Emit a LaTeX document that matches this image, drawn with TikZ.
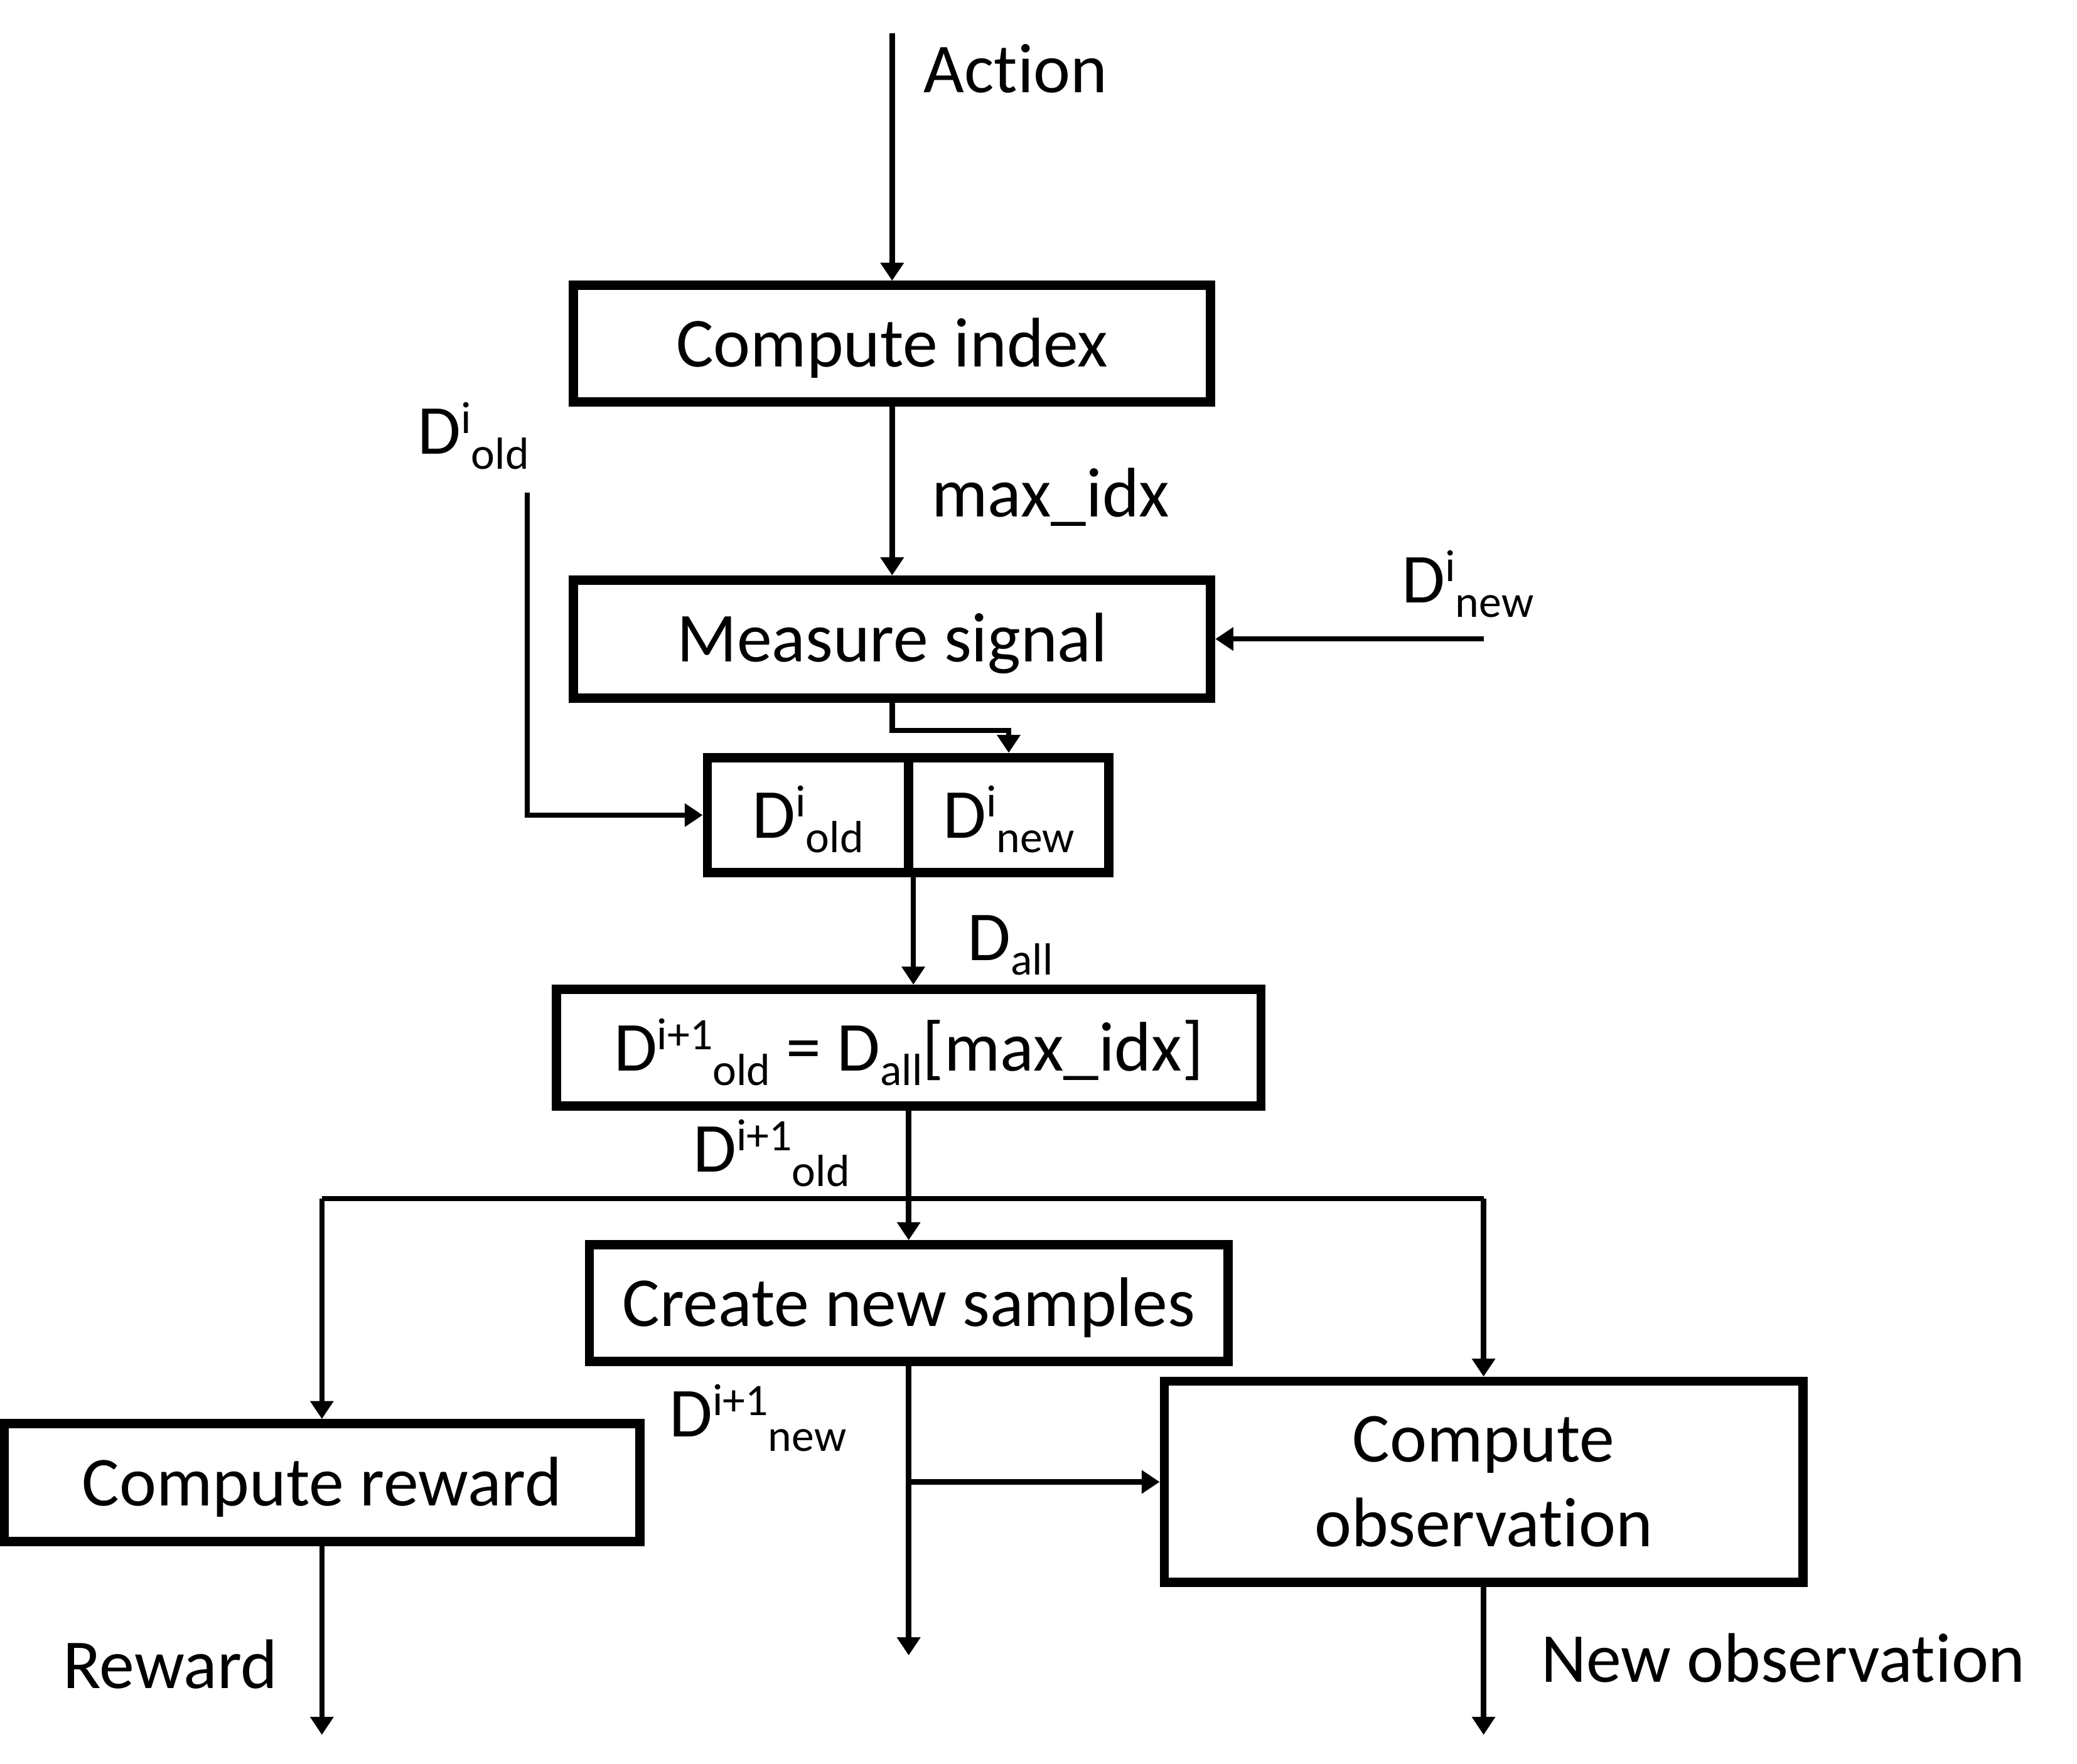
\documentclass[tikz,border=0pt]{standalone}
\usepackage{fontspec}
\setmainfont{Carlito}[Ligatures={NoCommon},RawFeature={-liga;-dlig;-calt}]
\usetikzlibrary{arrows.meta,calc}
\newcommand{\subfnt}{\fontsize{17}{17}\selectfont}
\newcommand{\Sp}[1]{\raisebox{8pt}{\subfnt #1}}
\newcommand{\Sb}[1]{\raisebox{-5.5pt}{\subfnt #1}}
\newcommand{\nolig}{\kern0pt\relax}
\begin{document}
\begin{tikzpicture}[x=0.5pt,y=-0.5pt,
  font=\fontsize{26.5}{32}\selectfont,
  box/.style={draw, line width=3.5pt, inner sep=0pt, align=center},
  onebox/.style={box, text height=22pt, text depth=4.6pt},
  arr/.style={line width=2pt, -{Triangle[length=6.8pt,width=8.5pt]}},
  busline/.style={line width=2pt},
  lbl/.style={inner sep=0pt, anchor=base west}]
\useasboundingbox (0,0) rectangle (1568,1332);
% boxes
\node[onebox, minimum width=240.5pt, minimum height=44pt] (ci) at (673.5,259.5) {Compute index};
\node[onebox, minimum width=240.5pt, minimum height=44.5pt] (ms) at (673.5,482.5) {Measure signal};
\node[onebox, minimum width=76pt, minimum height=43.5pt] (od) at (610,615.5) {D\Sp{i}\Sb{old}};
\node[onebox, minimum width=75.5pt, minimum height=43.5pt] (nw) at (761.5,615.5) {D\Sp{i}\Sb{new}};
\node[onebox, minimum width=266pt, minimum height=44pt] (da) at (686,791) {D\Sp{i+1}\Sb{old} = D\Sb{all}[max\_idx]};
\node[onebox, minimum width=241pt, minimum height=44pt] (cns) at (686,984) {Create new samples};
\node[onebox, minimum width=240pt, minimum height=44.5pt] (cr) at (243,1119.5) {Compute reward};
\node[box, minimum width=241pt, minimum height=76pt] (co) at (1120,1119) {Compute\\observat\nolig ion};
% free ends
\coordinate (act) at (673.5,25);
\coordinate (dol) at (398,372);
\coordinate (dnw) at (1120,482.5);
\coordinate (bl) at (243,905);
\coordinate (br) at (1120,905);
\coordinate (brn) at (686,1119);
\coordinate (cnsout) at (686,1250);
\coordinate (rout) at (243,1310);
\coordinate (oout) at (1120,1310);
% connectors
\draw[arr] (act) -- (ci.north);
\draw[arr] (ci.south) -- (ms.north);
\draw[arr] (dnw) -- (ms.east);
\draw[arr] (ms.south) -- ++(0,21) -| (nw.north);
\draw[arr] (dol) |- (od.west);
\draw[arr] (od.south east) -- (od.south east |- da.north);
\draw[arr] (da.south) -- (cns.north);
\draw[busline] (bl) -- (br);
\draw[arr] (bl) -- (cr.north);
\draw[arr] (br) -- (co.north);
\draw[arr] (cns.south) -- (cnsout);
\draw[arr] (brn) -- (co.west);
\draw[arr] (cr.south) -- (rout);
\draw[arr] (co.south) -- (oout);
% labels
\node[lbl] (lact) at (697,70) {Act\nolig ion};
\node[lbl] (lmax) at (703,390) {max\_idx};
\node[lbl] (ldol) at (315,343) {D\Sp{i}\Sb{old}};
\node[lbl] (ldnw) at (1058,455) {D\Sp{i}\Sb{new}};
\node[lbl] (ldall) at (730,725) {D\Sb{all}};
\node[lbl] (ldold1) at (523,885) {D\Sp{i+1}\Sb{old}};
\node[lbl] (ldnew1) at (505,1085) {D\Sp{i+1}\Sb{new}};
\node[lbl] (lrew) at (47,1275) {Reward};
\node[lbl] (lobs) at (1163,1270) {New observat\nolig ion};
\end{tikzpicture}
\end{document}
